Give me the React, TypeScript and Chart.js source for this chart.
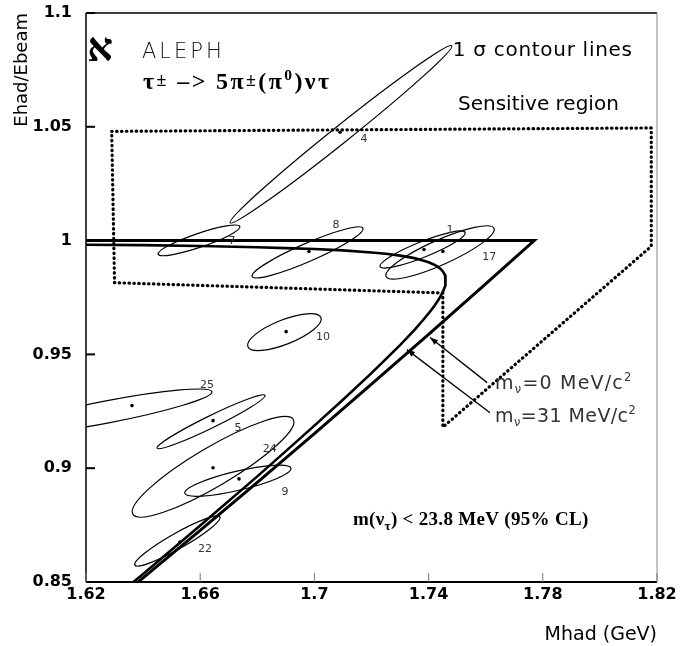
import React, { useEffect, useRef } from "react";
import { Chart, registerables } from "chart.js";

Chart.register(...registerables);

// ---------------- axis ticks ----------------
const xTickValues = [1.62, 1.66, 1.7, 1.74, 1.78, 1.82];
const xTickLabels = ["1.62", "1.66", "1.7", "1.74", "1.78", "1.82"];
const yTickValues = [0.85, 0.9, 0.95, 1, 1.05, 1.1];
const yTickLabels = ["0.85", "0.9", "0.95", "1", "1.05", "1.1"];

// ---------------- kinematic limit, m(nu) = 0 MeV/c^2 ----------------
const limitM0X = [1.62, 1.777, 1.76, 1.74, 1.72, 1.7, 1.68, 1.66, 1.64, 1.634];
const limitM0Y = [1.0, 1.0, 0.981, 0.9588, 0.9369, 0.9152, 0.8938, 0.8727, 0.8518, 0.8455];

// ---------------- kinematic limit, m(nu) = 31 MeV/c^2 ----------------
const limitM31X = [
  1.62, 1.64, 1.66, 1.68, 1.69, 1.7, 1.71, 1.72, 1.725, 1.73, 1.735, 1.738, 1.74, 1.742, 1.743, 1.744, 1.745, 1.7455, 1.7458, 1.746,
  1.7458, 1.7455, 1.745, 1.744, 1.743, 1.742, 1.74, 1.738, 1.735, 1.73, 1.725, 1.72, 1.71, 1.7, 1.69, 1.68, 1.66, 1.64, 1.634,
];
const limitM31Y = [
  0.9982, 0.998, 0.9976, 0.9971, 0.9967, 0.9963, 0.9957, 0.9948, 0.9942, 0.9934, 0.9923, 0.9913, 0.9905, 0.9894, 0.9887, 0.9878, 0.9865, 0.9854, 0.9846, 0.9826,
  0.9803, 0.9791, 0.9775, 0.9751, 0.9731, 0.9713, 0.968, 0.965, 0.9607, 0.9541, 0.9479, 0.9418, 0.9301, 0.9187, 0.9075, 0.8964, 0.8748, 0.8535, 0.8473,
];

// ---------------- sensitive region (dotted outline) ----------------
const regionX = [1.629, 1.818, 1.818, 1.745, 1.745, 1.63, 1.629];
const regionY = [1.048, 1.0495, 0.9975, 0.918, 0.977, 0.9815, 1.048];

// ---------------- 1 sigma contours of the events ----------------
const eventIds = ["4", "7", "8", "1", "17", "10", "25", "5", "24", "9", "22"];
const contourCx = [1.7093, 1.6596, 1.6976, 1.7379, 1.744, 1.6895, 1.6277, 1.6638, 1.6645, 1.6732, 1.652];
const contourCy = [1.0467, 1.0001, 0.9948, 0.9961, 0.9948, 0.9598, 0.9248, 0.9204, 0.9006, 0.8945, 0.868];
const contourTipX = [1.7481, 1.6739, 1.717, 1.7528, 1.7629, 1.7023, 1.6641, 1.6827, 1.6926, 1.6918, 1.6669];
const contourTipY = [1.0856, 1.0062, 1.0054, 1.0036, 1.0054, 0.9662, 0.9336, 0.932, 0.9214, 0.9, 0.8786];
const contourAxisRatio = [0.06, 0.16, 0.15, 0.17, 0.21, 0.31, 0.104, 0.1, 0.21, 0.175, 0.16];

// ---------------- measured event points ----------------
const eventX = [1.709, 1.6981, 1.7384, 1.745, 1.6901, 1.6361, 1.6645, 1.6645, 1.6736, 1.6529];
const eventY = [1.0476, 0.9952, 0.9961, 0.9952, 0.96, 0.9275, 0.9209, 0.9002, 0.8953, 0.8676];

// ---------------- annotation layout (positions in data units) ----------------
const eventLabelAt: Record<string, [number, number]> = {
  "4": [1.7174, 1.0445],
  "7": [1.6711, 0.9996],
  "8": [1.7076, 1.0067],
  "1": [1.7475, 1.0045],
  "17": [1.7612, 0.9926],
  "10": [1.703, 0.9578],
  "25": [1.6624, 0.9363],
  "5": [1.6732, 0.9178],
  "24": [1.6844, 0.9085],
  "9": [1.6897, 0.8896],
  "22": [1.6617, 0.8645],
};

const arrows = [
  { from: [1.7605, 0.9376], to: [1.7405, 0.9574] },
  { from: [1.7615, 0.9244], to: [1.7324, 0.9521] },
];

type Seg = { t: string; s?: number; dy?: number };
type Note = { x: number; y: number; segs: Seg[]; size: number; weight: string; family: string; color: string; spacing?: number };

const SANS = "'DejaVu Sans', 'Liberation Sans', sans-serif";
const SERIF = "'Liberation Serif', 'DejaVu Serif', serif";

const notes: Note[] = [
  { x: 1.6204, y: 1.0852, segs: [{ t: "א" }], size: 40, weight: "bold", family: SERIF, color: "#000" },
  { x: 1.6396, y: 1.0837, segs: [{ t: "ALEPH" }], size: 21, weight: "200", family: SANS, color: "#111", spacing: 3 },
  {
    x: 1.64, y: 1.0705, size: 24, weight: "bold", family: SERIF, color: "#000", spacing: 2.4,
    segs: [
      { t: "τ" }, { t: "±", s: 0.75, dy: -3 }, { t: " –> 5π" }, { t: "±", s: 0.75, dy: -3 },
      { t: "(π" }, { t: "0", s: 0.65, dy: -9 }, { t: ")ντ" },
    ],
  },
  { x: 1.7485, y: 1.0842, segs: [{ t: "1 σ contour lines" }], size: 20, weight: "normal", family: SANS, color: "#000", spacing: 0.7 },
  { x: 1.7503, y: 1.0604, segs: [{ t: "Sensitive region" }], size: 20, weight: "normal", family: SANS, color: "#000" },
  {
    x: 1.7633, y: 0.9376, size: 19, weight: "normal", family: SANS, color: "#333", spacing: 1.2,
    segs: [{ t: "m" }, { t: "ν", s: 0.6, dy: 4 }, { t: "=0 MeV/c" }, { t: "2", s: 0.6, dy: -8 }],
  },
  {
    x: 1.7633, y: 0.9235, size: 19, weight: "normal", family: SANS, color: "#333", spacing: 0.4,
    segs: [{ t: "m" }, { t: "ν", s: 0.6, dy: 4 }, { t: "=31 MeV/c" }, { t: "2", s: 0.6, dy: -8 }],
  },
  {
    x: 1.7135, y: 0.8782, size: 19, weight: "bold", family: SERIF, color: "#000", spacing: 0.3,
    segs: [{ t: "m(ν" }, { t: "τ", s: 0.7, dy: 5 }, { t: ") < 23.8 MeV (95% CL)" }],
  },
];

const overlayPlugin = {
  id: "overlay",
  beforeDatasetsDraw(chart: any) {
    const { ctx, chartArea: ca, scales } = chart;
    const px = (v: number) => scales.x.getPixelForValue(v);
    const py = (v: number) => scales.y.getPixelForValue(v);
    ctx.save();
    ctx.beginPath();
    ctx.rect(ca.left, ca.top, ca.right - ca.left, ca.bottom - ca.top);
    ctx.clip();
    ctx.strokeStyle = "#000";
    ctx.lineWidth = 1.2;
    eventIds.forEach((_, i) => {
      const cx = px(contourCx[i]);
      const cy = py(contourCy[i]);
      const tx = px(contourTipX[i]);
      const ty = py(contourTipY[i]);
      const a = Math.hypot(tx - cx, ty - cy);
      ctx.beginPath();
      ctx.ellipse(cx, cy, a, a * contourAxisRatio[i], Math.atan2(ty - cy, tx - cx), 0, Math.PI * 2);
      ctx.stroke();
    });
    ctx.restore();
  },
  afterDatasetsDraw(chart: any) {
    const { ctx, chartArea: ca, scales } = chart;
    const px = (v: number) => scales.x.getPixelForValue(v);
    const py = (v: number) => scales.y.getPixelForValue(v);
    ctx.save();

    // frame
    ctx.strokeStyle = "#000";
    ctx.lineWidth = 1.5;
    ctx.beginPath();
    ctx.moveTo(ca.left, ca.top);
    ctx.lineTo(ca.right, ca.top);
    ctx.moveTo(ca.left, ca.top);
    ctx.lineTo(ca.left, ca.bottom);
    ctx.stroke();
    ctx.lineWidth = 2;
    ctx.beginPath();
    ctx.moveTo(ca.left, ca.bottom);
    ctx.lineTo(ca.right, ca.bottom);
    ctx.stroke();
    ctx.strokeStyle = "#888";
    ctx.lineWidth = 1;
    ctx.beginPath();
    ctx.moveTo(ca.right, ca.top);
    ctx.lineTo(ca.right, ca.bottom);
    ctx.stroke();

    // inward tick marks
    ctx.strokeStyle = "#000";
    ctx.lineWidth = 2;
    yTickValues.forEach((v) => {
      const p = py(v);
      ctx.beginPath();
      ctx.moveTo(ca.left, p);
      ctx.lineTo(ca.left + 9, p);
      ctx.stroke();
    });
    ctx.strokeStyle = "#777";
    ctx.lineWidth = 1;
    xTickValues.forEach((v) => {
      const p = px(v);
      ctx.beginPath();
      ctx.moveTo(p, ca.bottom);
      ctx.lineTo(p, ca.bottom - 9);
      ctx.stroke();
    });

    // arrows
    ctx.strokeStyle = "#000";
    ctx.fillStyle = "#000";
    ctx.lineWidth = 1.3;
    arrows.forEach((ar) => {
      const x0 = px(ar.from[0]);
      const y0 = py(ar.from[1]);
      const x1 = px(ar.to[0]);
      const y1 = py(ar.to[1]);
      const ang = Math.atan2(y1 - y0, x1 - x0);
      ctx.beginPath();
      ctx.moveTo(x0, y0);
      ctx.lineTo(x1, y1);
      ctx.stroke();
      const L = 8;
      const W = 3;
      ctx.beginPath();
      ctx.moveTo(x1, y1);
      ctx.lineTo(x1 - L * Math.cos(ang) + W * Math.sin(ang), y1 - L * Math.sin(ang) - W * Math.cos(ang));
      ctx.lineTo(x1 - L * Math.cos(ang) - W * Math.sin(ang), y1 - L * Math.sin(ang) + W * Math.cos(ang));
      ctx.closePath();
      ctx.fill();
    });

    // event labels
    ctx.fillStyle = "#333";
    ctx.font = `11px ${SANS}`;
    ctx.textAlign = "center";
    ctx.textBaseline = "middle";
    eventIds.forEach((id) => {
      const pos = eventLabelAt[id];
      if (pos) ctx.fillText(id, px(pos[0]), py(pos[1]));
    });

    // text notes
    ctx.textAlign = "left";
    ctx.textBaseline = "alphabetic";
    notes.forEach((n) => {
      let cx = px(n.x);
      const base = py(n.y) + n.size * 0.36;
      ctx.fillStyle = n.color;
      (ctx as any).letterSpacing = `${n.spacing ?? 0}px`;
      n.segs.forEach((sg) => {
        const sz = n.size * (sg.s ?? 1);
        ctx.font = `${n.weight} ${sz}px ${n.family}`;
        ctx.fillText(sg.t, cx, base + (sg.dy ?? 0));
        cx += ctx.measureText(sg.t).width;
      });
      (ctx as any).letterSpacing = "0px";
    });
    ctx.restore();
  },
};

const zip = (xs: number[], ys: number[]) => xs.map((x, i) => ({ x, y: ys[i] }));

export default function App() {
  const canvasRef = useRef<HTMLCanvasElement | null>(null);

  useEffect(() => {
    if (!canvasRef.current) return;
    const chart = new Chart(canvasRef.current, {
      type: "scatter",
      data: {
        datasets: [
          {
            label: "m_nu = 0",
            data: zip(limitM0X, limitM0Y),
            showLine: true,
            borderColor: "#000",
            borderWidth: 3,
            pointRadius: 0,
            tension: 0,
            clip: 0,
          } as any,
          {
            label: "m_nu = 31",
            data: zip(limitM31X, limitM31Y),
            showLine: true,
            borderColor: "#000",
            borderWidth: 2.6,
            borderJoinStyle: "round",
            pointRadius: 0,
            tension: 0,
            clip: 0,
          } as any,
          {
            label: "Sensitive region",
            data: zip(regionX, regionY),
            showLine: true,
            borderColor: "#000",
            borderWidth: 3.2,
            borderDash: [0.5, 4.4],
            borderCapStyle: "round",
            borderJoinStyle: "round",
            pointRadius: 0,
            tension: 0,
            clip: 0,
          } as any,
          {
            label: "events",
            data: zip(eventX, eventY),
            showLine: false,
            pointRadius: 1.8,
            pointBackgroundColor: "#000",
            pointBorderWidth: 0,
            clip: 0,
          } as any,
        ],
      },
      options: {
        animation: false,
        responsive: false,
        events: [],
        layout: { padding: { top: 13, right: 24, left: 0, bottom: 0 } },
        plugins: { legend: { display: false }, tooltip: { enabled: false } },
        scales: {
          x: {
            type: "linear",
            min: 1.62,
            max: 1.82,
            afterBuildTicks: (s: any) => {
              s.ticks = xTickValues.map((v) => ({ value: v }));
            },
            afterFit: (s: any) => {
              s.height = 64;
              s.paddingLeft = 0;
              s.paddingRight = 0;
            },
            ticks: {
              callback: (_v: any, i: number) => xTickLabels[i],
              font: { family: SANS, size: 16, weight: "bold" },
              color: "#000",
              padding: 3,
              maxRotation: 0,
              autoSkip: false,
            },
            grid: { display: false, drawTicks: false },
            border: { display: false },
            title: {
              display: true,
              text: "Mhad (GeV)",
              align: "end",
              color: "#000",
              font: { family: SANS, size: 19, weight: "normal" },
              padding: { top: 0, bottom: 0 },
            },
          },
          y: {
            type: "linear",
            min: 0.85,
            max: 1.1,
            afterBuildTicks: (s: any) => {
              s.ticks = yTickValues.map((v) => ({ value: v }));
            },
            afterFit: (s: any) => {
              s.width = 86;
              s.paddingTop = 0;
              s.paddingBottom = 0;
            },
            ticks: {
              callback: (_v: any, i: number) => yTickLabels[i],
              font: { family: SANS, size: 16, weight: "bold" },
              color: "#000",
              padding: 14,
              autoSkip: false,
            },
            grid: { display: false, drawTicks: false },
            border: { display: false },
            title: {
              display: true,
              text: "Ehad/Ebeam",
              align: "end",
              color: "#000",
              font: { family: SANS, size: 18, weight: "normal" },
              padding: { top: 12, bottom: 0 },
            },
          },
        },
      } as any,
      plugins: [overlayPlugin],
    });
    return () => chart.destroy();
  }, []);

  return (
    <div style={{ position: "absolute", left: 0, top: 0, width: 681, height: 646, background: "#fff" }}>
      <canvas ref={canvasRef} width={681} height={646} style={{ display: "block", width: 681, height: 646 }} />
    </div>
  );
}
